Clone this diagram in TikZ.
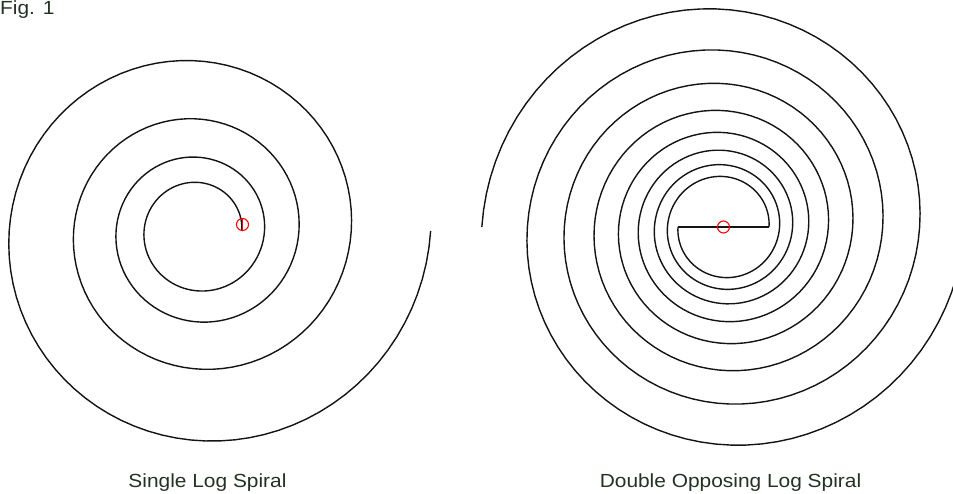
\documentclass[tikz,border=0pt]{standalone}
\usepackage{fontspec}
\setmainfont{Liberation Sans}[FakeStretch=1.1]
\definecolor{inkline}{RGB}{20,20,20}
\definecolor{labeltext}{RGB}{35,50,35}
\definecolor{markred}{RGB}{255,0,0}
\begin{document}
\begin{tikzpicture}[x=1pt,y=-1pt,
  spiral/.style={draw=inkline,line width=1.4pt,line join=round},
  marker/.style={draw=markred,line width=1.1pt},
  caption/.style={font=\fontsize{19}{22}\selectfont,text=labeltext,inner sep=0pt,anchor=base}]
\useasboundingbox (0,0) rectangle (953,493);
\clip (0,0) rectangle (953,493);
% title
\node[caption,anchor=base west] (fig) at (0,14) {Fig. 1};
% ---- single log spiral ----
\coordinate (sc) at (198,231);
\draw[spiral] plot[domain=0:1440,samples=361,variable=\p]
  ({198+43.8*exp(0.0011554*\p)*cos(\p)},{231-43.8*exp(0.0011554*\p)*sin(\p)});
\coordinate (sm) at (242.5,224.5);
\draw[marker] (sm) circle[radius=6];
\draw[marker] ([yshift=-6.5pt]sm) -- ([yshift=6.5pt]sm);
\node[caption] (lab1) at (207.5,487) {Single Log Spiral};
% ---- double opposing log spiral ----
\coordinate (dc) at (723.5,227);
\coordinate (astart) at (769,227);
\coordinate (bstart) at (678,227);
\draw[spiral] plot[domain=0:1440,samples=361,variable=\p]
  ({723.5+45.5*exp(0.0011606*\p)*cos(\p)},{227-45.5*exp(0.0011606*\p)*sin(\p)});
\draw[spiral] plot[domain=0:1440,samples=361,variable=\p]
  ({723.5-45.5*exp(0.0011606*\p)*cos(\p)},{227+45.5*exp(0.0011606*\p)*sin(\p)});
\draw[spiral] (bstart) -- (astart);
\draw[marker] (dc) circle[radius=6];
\node[caption] (lab2) at (730.5,487) {Double Opposing Log Spiral};
\end{tikzpicture}
\end{document}
